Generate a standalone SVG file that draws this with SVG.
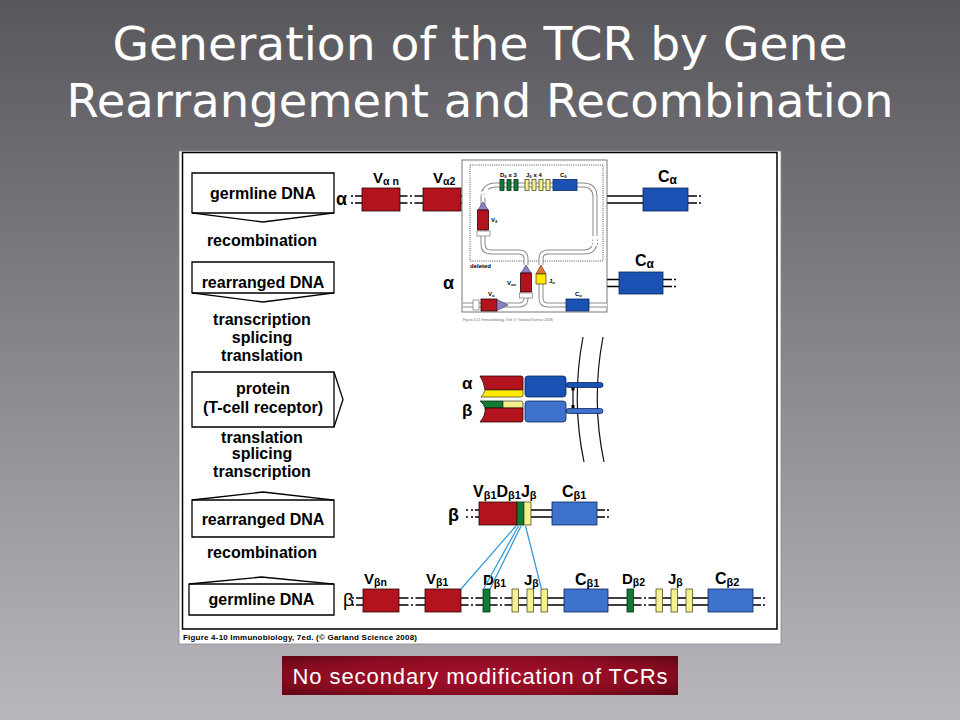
<svg xmlns="http://www.w3.org/2000/svg" xmlns:xlink="http://www.w3.org/1999/xlink" width="960" height="720" viewBox="0 0 960 720">
<defs>
<linearGradient id="bg" x1="0" y1="0" x2="0" y2="1"><stop offset="0" stop-color="#58575c"/><stop offset="1" stop-color="#bab6be"/></linearGradient>
<radialGradient id="btn" cx="0.5" cy="0.5" r="0.75"><stop offset="0" stop-color="#a5112c"/><stop offset="0.6" stop-color="#8c0c22"/><stop offset="1" stop-color="#560412"/></radialGradient>
<style>
.t{font-family:"DejaVu Sans","Liberation Sans",sans-serif;fill:#fff;font-size:46.5px;text-anchor:middle}
.bx{fill:#fff;stroke:#000;stroke-width:1.3}
.ln{fill:none;stroke:#000;stroke-width:1.3}
.lb{font-family:"Liberation Sans",Arial,sans-serif;font-weight:bold;font-size:16px;text-anchor:middle;fill:#000}
.gl{font-family:"Liberation Sans",Arial,sans-serif;font-weight:bold;font-size:15px;fill:#000}
.cl{font-size:16px}
.s{font-size:10.5px}
.gk{font-family:"Liberation Sans",Arial,sans-serif;font-weight:bold;font-size:18px;fill:#000}
.dna{fill:none;stroke:#000;stroke-width:1.4}
.r{fill:#b3131c;stroke:#2a0406;stroke-width:0.8}
.b{fill:#1a52b4;stroke:#0a2660;stroke-width:0.8}
.bl{fill:#3e72cc;stroke:#0a2660;stroke-width:0.8}
.g{fill:#137a36;stroke:#043012;stroke-width:0.8}
.y{fill:#f4f08c;stroke:#3a3a20;stroke-width:0.7}
.yb{fill:#ffea00;stroke:#3a3a20;stroke-width:0.7}
.pu{fill:#8c82c4;stroke:#3a3460;stroke-width:0.6}
.or{fill:#e2782e;stroke:#5a2a08;stroke-width:0.6}
.wb{fill:#fff;stroke:#777;stroke-width:0.7}
.con{stroke:#2a98d8;stroke-width:1.2;fill:none}
.tubo{fill:none;stroke:#8a8a8a;stroke-width:5}
.tubi{fill:none;stroke:#fff;stroke-width:3}
.it{font-family:"Liberation Sans",Arial,sans-serif;font-weight:bold;font-size:6px;fill:#000}
.its{font-size:4px}
</style>
<path id="dots" d="M-1,-3.5h2M-1,3.5h2" stroke="#000" stroke-width="1.4"/>
<g id="brk"><rect x="-3.5" y="-6" width="7" height="12" fill="#fff"/><path d="M-1,-3.5h2M-1,3.5h2" stroke="#000" stroke-width="1.4"/></g>
<path id="loop" d="M526,265V259Q526,252 519,252H491Q483,252 483,244V198Q483,185 496,185H583Q595,185 595,197V241Q595,252 584,252H548Q541,252 541,259V265"/>
<path id="botL" d="M463,305H519Q526,305 526,298"/>
<path id="botR" d="M541,283V298Q541,305 548,305H607"/>
</defs>

<rect x="0" y="0" width="960" height="720" fill="url(#bg)"/>

<g id="title">
<text class="t" x="480" y="60" textLength="735" lengthAdjust="spacingAndGlyphs">Generation of the TCR by Gene</text>
<text class="t" x="480" y="117" textLength="827" lengthAdjust="spacingAndGlyphs">Rearrangement and Recombination</text>
</g>

<g id="figure-panel">
<rect x="179" y="151" width="602" height="493" fill="#fff" stroke="#8a8a8a" stroke-width="0.8"/>
<rect x="182.5" y="152.5" width="594.5" height="476.5" fill="none" stroke="#000" stroke-width="1.5"/>
<text x="183" y="640" font-family="Liberation Sans, Arial, sans-serif" font-weight="bold" font-size="8" textLength="234" fill="#000">Figure 4-10 Immunobiology, 7ed. (© Garland Science 2008)</text>
</g>

<g id="flow-left">
<g id="box-germline-a">
<polygon class="bx" points="192,173 334,173 334,213 263,222 192,213"/>
<path class="ln" d="M192,213H334"/>
<text class="lb" x="263" y="199">germline DNA</text>
</g>
<text class="lb" x="262" y="246">recombination</text>
<g id="box-rearranged-a">
<polygon class="bx" points="192,262 334,262 334,293 263,302 192,293"/>
<path class="ln" d="M192,293H334"/>
<text class="lb" x="263" y="288">rearranged DNA</text>
</g>
<text class="lb" x="262" y="325">transcription</text>
<text class="lb" x="262" y="343">splicing</text>
<text class="lb" x="262" y="361">translation</text>
<g id="box-protein">
<polygon class="bx" points="192,372 334,372 343,399.5 334,427 192,427"/>
<path class="ln" d="M334,372V427"/>
<text class="lb" x="263" y="394">protein</text>
<text class="lb" x="263" y="413">(T-cell receptor)</text>
</g>
<text class="lb" x="262" y="443">translation</text>
<text class="lb" x="262" y="459">splicing</text>
<text class="lb" x="262" y="477">transcription</text>
<g id="box-rearranged-b">
<polygon class="bx" points="192,500 263,492 334,500 334,537 192,537"/>
<path class="ln" d="M192,500H334"/>
<text class="lb" x="263" y="525">rearranged DNA</text>
</g>
<text class="lb" x="262" y="558">recombination</text>
<g id="box-germline-b">
<polygon class="bx" points="189,584 261.5,577 334,584 334,615 189,615"/>
<path class="ln" d="M189,584H334"/>
<text class="lb" x="261.5" y="605">germline DNA</text>
</g>
</g>

<g id="alpha-germline">
<text class="gk" x="336" y="205">α</text>
<use href="#dots" x="352" y="199.5"/>
<path class="dna" d="M355,196H462M355,203H462M607,196H697M607,203H697"/>
<use href="#brk" x="411" y="199.5"/>
<use href="#dots" x="700" y="199.5"/>
<g id="Van"><rect class="r" x="362" y="188" width="38" height="23"/><text class="gl" x="373" y="183">V<tspan class="s" dy="2">α n</tspan></text></g>
<g id="Va2"><rect class="r" x="423" y="188" width="38" height="23"/><text class="gl" x="433" y="183">V<tspan class="s" dy="2">α2</tspan></text></g>
<g id="Ca-germline"><rect class="b" x="643" y="188" width="45" height="23"/><text class="gl cl" x="658" y="182">C<tspan class="s" dy="2" style="font-size:12px">α</tspan></text></g>
</g>

<g id="alpha-rearranged">
<text class="gk" x="443" y="289">α</text>
<path class="dna" d="M607,279.5H672M607,286.5H672"/>
<use href="#dots" x="675" y="283"/>
<g id="Ca-rearranged"><rect class="b" x="619" y="272" width="44" height="22"/><text class="gl cl" x="635" y="266">C<tspan class="s" dy="2" style="font-size:12px">α</tspan></text></g>
</g>

<g id="inset">
<rect x="462" y="160" width="145" height="152" fill="#fff" stroke="#555" stroke-width="0.8"/>
<rect x="470" y="165" width="133" height="96" fill="none" stroke="#222" stroke-width="0.8" stroke-dasharray="1,1.2"/>
<use href="#loop" class="tubo"/><use href="#loop" class="tubi"/>
<use href="#botL" class="tubo"/><use href="#botL" class="tubi"/>
<use href="#botR" class="tubo"/><use href="#botR" class="tubi"/>
<rect x="591" y="236" width="8" height="10" fill="#fff"/>
<path d="M592.5,239.5v1.5M597.5,239.5v1.5M592.5,243v1.5M597.5,243v1.5" stroke="#8a8a8a" stroke-width="0.9"/>
<rect x="482" y="189" width="9" height="8" fill="#fff" transform="rotate(-45 486.5 193)"/>
<path d="M484,194.5l1,-1M488.5,190l1,-1M483,191l0.8,-0.8" stroke="#8a8a8a" stroke-width="0.9"/>
<g id="Dd"><rect class="g" x="500" y="179.5" width="4" height="11"/><rect class="g" x="507" y="179.5" width="4" height="11"/><rect class="g" x="514" y="179.5" width="4" height="11"/></g>
<g id="Jd"><rect class="y" x="525" y="179.5" width="4" height="11"/><rect class="y" x="532" y="179.5" width="4" height="11"/><rect class="y" x="539" y="179.5" width="4" height="11"/><rect class="y" x="546" y="179.5" width="4" height="11"/></g>
<rect class="b" x="553" y="179.5" width="24" height="11"/>
<text class="it" x="500" y="176.5">D<tspan class="its" dy="1">δ</tspan><tspan dy="-1"> x 3</tspan></text>
<text class="it" x="526" y="176.5">J<tspan class="its" dy="1">δ</tspan><tspan dy="-1"> x 4</tspan></text>
<text class="it" x="560" y="176.5">C<tspan class="its" dy="1">δ</tspan></text>
<g id="Vd"><polygon class="pu" points="478,210 488,210 483,202"/><rect class="r" x="477.5" y="210" width="11" height="20"/><rect class="wb" x="477" y="231" width="13" height="5"/></g>
<text class="it" x="491" y="222">V<tspan class="its" dy="1">δ</tspan></text>
<text class="it" x="470" y="268">deleted</text>
<g id="Van-inset"><polygon class="pu" points="521,273 531,273 526,265"/><rect class="r" x="520.5" y="273" width="11" height="19"/><rect class="wb" x="519.5" y="293" width="13" height="5"/></g>
<text class="it" x="507" y="285">V<tspan class="its" dy="1">αn</tspan></text>
<g id="Ja-inset"><polygon class="or" points="536,274 546,274 541,265"/><rect class="yb" x="536" y="274" width="10" height="10"/></g>
<text class="it" x="549" y="283">J<tspan class="its" dy="1">α</tspan></text>
<g id="Va-inset"><rect class="wb" x="473" y="300" width="6" height="10"/><rect class="r" x="481" y="299" width="16" height="12"/><polygon class="pu" points="497,299.5 508,305 497,310.5"/></g>
<text class="it" x="488" y="296">V<tspan class="its" dy="1">α</tspan></text>
<rect class="b" x="566" y="299" width="23" height="12"/>
<text class="it" x="575" y="296">C<tspan class="its" dy="1">α</tspan></text>
<text x="463" y="321" font-family="Liberation Sans, Arial, sans-serif" font-size="3.6" fill="#777" textLength="90">Figure 4-11 Immunobiology, 7ed. (© Garland Science 2008)</text>
</g>

<g id="tcr-protein">
<path d="M583,337Q571,400 584,462" fill="none" stroke="#111" stroke-width="1.2"/>
<path d="M603,337Q591,400 604,462" fill="none" stroke="#111" stroke-width="1.2"/>
<rect class="b" x="566" y="382.5" width="37" height="5" rx="2.5"/>
<rect class="bl" x="566" y="408.5" width="37" height="5" rx="2.5"/>
<path class="r" d="M480,376H521Q523,376 523,378V390H485Q484,382 480,376Z"/>
<path class="yb" d="M485,390H523V395Q523,397 521,397H481Q484,394 485,390Z"/>
<path class="g" d="M480,401H503V408H485Q484,404 480,401Z"/>
<path class="y" d="M503,401H521Q523,401 523,403V408H503Z"/>
<path class="r" d="M485,408H523V420Q523,422 521,422H480Q486,415 485,408Z"/>
<rect class="b" x="525" y="376" width="41" height="21" rx="3"/>
<rect class="bl" x="525" y="401" width="41" height="21" rx="3"/>
<path d="M573,389V407" stroke="#000" stroke-width="1.2"/>
<rect x="571.5" y="387.5" width="3" height="3" fill="#000"/>
<rect x="571.5" y="405" width="3" height="3" fill="#000"/>
<text class="gk" x="462" y="389" style="font-size:17px">α</text>
<text class="gk" x="462" y="416" style="font-size:17px">β</text>
</g>

<g id="beta-rearranged">
<text class="gk" x="448" y="521">β</text>
<use href="#dots" x="467" y="513.5"/>
<use href="#dots" x="472" y="513.5"/>
<path class="dna" d="M475,510H605M475,517H605"/>
<use href="#dots" x="608" y="513.5"/>
<g id="VDJ"><rect class="r" x="479" y="502" width="38" height="23"/><rect class="g" x="517" y="502" width="7" height="23"/><rect class="y" x="524" y="502" width="7" height="23"/>
<text class="gl cl" x="473" y="497">V<tspan class="s" dy="2" style="font-size:11px">β1</tspan><tspan dy="-2">D</tspan><tspan class="s" dy="2" style="font-size:11px">β1</tspan><tspan dy="-2">J</tspan><tspan class="s" dy="2" style="font-size:11px">β</tspan></text></g>
<g id="Cb1-rearranged"><rect class="bl" x="552" y="502" width="45" height="23"/><text class="gl cl" x="562" y="497">C<tspan class="s" dy="2" style="font-size:11px">β1</tspan></text></g>
</g>

<g id="beta-germline">
<text x="343" y="606" font-family="Liberation Sans, Arial, sans-serif" font-size="19" fill="#000">β</text>
<use href="#dots" x="353" y="601.5"/>
<path class="dna" d="M356,598H761M356,605H761"/>
<use href="#brk" x="412" y="601.5"/>
<use href="#brk" x="472" y="601.5"/>
<use href="#brk" x="501" y="601.5"/>
<use href="#brk" x="645" y="601.5"/>
<use href="#dots" x="764" y="601.5"/>
<g id="Vbn"><rect class="r" x="363" y="589" width="36" height="23"/><text class="gl" x="364" y="584">V<tspan class="s" dy="2">βn</tspan></text></g>
<g id="Vb1"><rect class="r" x="425" y="589" width="36" height="23"/><text class="gl" x="426" y="584">V<tspan class="s" dy="2">β1</tspan></text></g>
<g id="Db1"><rect class="g" x="483" y="589" width="7" height="23"/><text class="gl" x="483" y="585">D<tspan class="s" dy="2">β1</tspan></text></g>
<g id="Jb1"><rect class="y" x="512" y="589" width="6.5" height="23"/><rect class="y" x="527" y="589" width="6.5" height="23"/><rect class="y" x="541" y="589" width="6.5" height="23"/><text class="gl" x="524" y="585">J<tspan class="s" dy="2">β</tspan></text></g>
<g id="Cb1"><rect class="bl" x="564" y="589" width="44" height="23"/><text class="gl cl" x="575" y="585">C<tspan class="s" dy="2" style="font-size:11px">β1</tspan></text></g>
<g id="Db2"><rect class="g" x="627" y="589" width="6.5" height="23"/><text class="gl" x="622" y="584">D<tspan class="s" dy="2">β2</tspan></text></g>
<g id="Jb2"><rect class="y" x="656" y="589" width="6.5" height="23"/><rect class="y" x="671" y="589" width="6.5" height="23"/><rect class="y" x="686" y="589" width="6.5" height="23"/><text class="gl" x="668" y="584">J<tspan class="s" dy="2">β</tspan></text></g>
<g id="Cb2"><rect class="bl" x="708" y="589" width="45" height="23"/><text class="gl cl" x="715" y="584">C<tspan class="s" dy="2" style="font-size:11px">β2</tspan></text></g>
</g>

<g id="connectors">
<path class="con" d="M516,526L461,589"/>
<path class="con" d="M518.5,526L483.5,589"/>
<path class="con" d="M521,526L490,589"/>
<path class="con" d="M525.5,526L541.5,589"/>
</g>

<g id="note">
<rect x="282" y="656" width="396" height="39" fill="url(#btn)"/>
<text x="480" y="684" font-family="Liberation Sans, Arial, sans-serif" font-size="22" fill="#fff" text-anchor="middle" textLength="375">No secondary modification of TCRs</text>
</g>
</svg>
